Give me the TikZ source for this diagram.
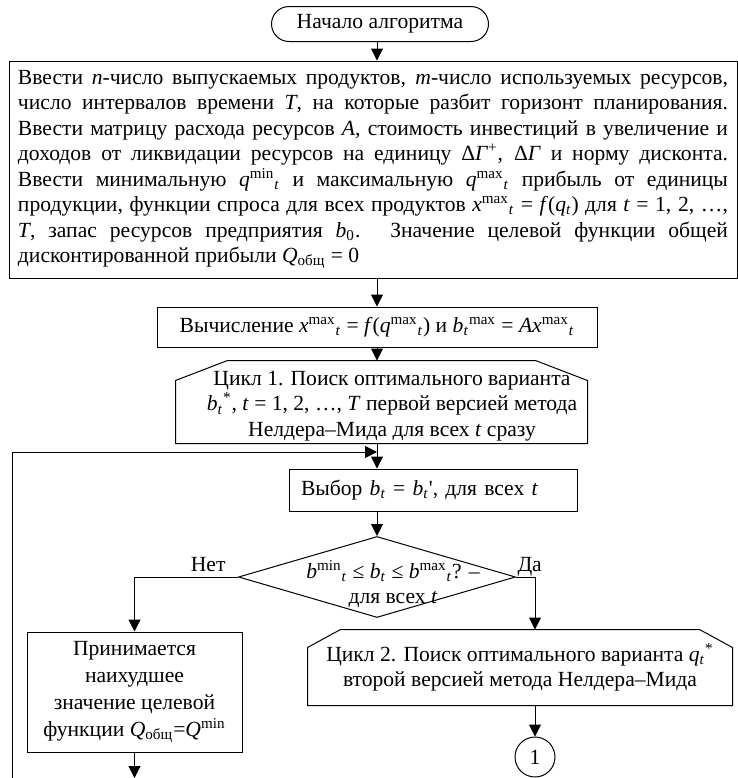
\documentclass[tikz,border=0pt]{standalone}
\usepackage{fontspec}
\setmainfont{Liberation Serif}
\usepackage{tikz}
\usetikzlibrary{arrows.meta,shapes.geometric,shapes.misc,positioning}
\newcommand{\hi}[1]{\textsuperscript{#1}}
\newcommand{\lo}[1]{\textsubscript{#1}}

\begin{document}
\begin{tikzpicture}[x=0.5pt,y=-0.5pt,line width=0.5pt,
    every node/.style={font=\fontsize{10.8pt}{12.75pt}\selectfont,inner sep=0pt},
    block/.style={draw,rectangle,align=center},
    term/.style={draw,rounded rectangle,minimum width=108.5pt,minimum height=17.5pt},
    arr/.style={-{Triangle[length=6pt,width=6pt]}}]
                \useasboundingbox (0,0) rectangle (738,778);

                \node[term] (start) at (380,24) {Начало алгоритма};
                \node[block,align=justify,text width=355pt,inner xsep=4.5pt,minimum height=108.5pt] (input) at (373,169.5) {%
                Ввести \textit{n}-число выпускаемых продуктов, \textit{m}-число используемых ресурсов,\linebreak
                число интервалов времени \textit{T}, на которые разбит горизонт планирования.\linebreak
                Ввести матрицу расхода ресурсов \textit{A}, стоимость инвестиций в увеличение и\linebreak
                доходов от ликвидации ресурсов на единицу Δ\textit{Γ}\hi{+}, Δ\textit{Γ} и норму дисконта.\linebreak
                Ввести минимальную \textit{q}\hi{min}\lo{\textit{t}} и максимальную \textit{q}\hi{max}\lo{\textit{t}} прибыль от единицы\linebreak
                продукции, функции спроса для всех продуктов \textit{x}\hi{max}\lo{\textit{t}} = \textit{f}(\textit{q}\lo{\textit{t}}) для \textit{t} = 1, 2, …,\linebreak
                \textit{T}, запас ресурсов предприятия \textit{b}\lo{0}. Значение целевой функции общей\linebreak
                дисконтированной прибыли \textit{Q}\lo{общ} = 0};
                \node[block,minimum width=220pt,minimum height=20pt] (calc) at (377,327)
                    {Вычисление \textit{x}\hi{max}\lo{\textit{t}} = \textit{f}(\textit{q}\hi{max}\lo{\textit{t}}) и \textit{b}\lo{\textit{t}}\hi{max} = \textit{Ax}\hi{max}\lo{\textit{t}}};

                % cycle 1
                \node[minimum width=205.5pt,minimum height=41pt] (cyc1) at (381.5,402) {};
                \draw (cyc1.south west) -- ([yshift=-10pt]cyc1.north west) -- ([xshift=26pt]cyc1.north west)
                    -- ([xshift=-26pt]cyc1.north east) -- ([yshift=-10pt]cyc1.north east) -- (cyc1.south east) -- cycle;
                \node[align=center] (cyc1txt) at (392,406)
                    {Цикл 1. Поиск оптимального варианта\\
                     \textit{b}\lo{\textit{t}}\hi{*}, \textit{t} = 1, 2, …, \textit{T} первой версией метода\\
                     Нелдера–Мида для всех \textit{t} сразу};

                \coordinate (loopin) at (377,452);
                \coordinate (loopend) at (12,778);
                \node[draw,align=left,text width=132pt,inner xsep=6pt,minimum height=21pt] (sel) at (433,490)
                    {Выбор \textit{b}\lo{\textit{t}} = \textit{b}\lo{\textit{t}}\textquotesingle, для всех \textit{t}};

                % check
                \node[draw,diamond,minimum width=138.5pt,minimum height=40.5pt] (chk) at (377,577) {};
                \node[align=center] (chktxt) at (393,584)
                    {\textit{b}\hi{min}\lo{\textit{t}} ≤ \textit{b}\lo{\textit{t}} ≤ \textit{b}\hi{max}\lo{\textit{t}}? –\\ для всех \textit{t}};
                \node[anchor=base east] (nolbl) at ([xshift=-6pt,yshift=3pt]chk.west) {Нет};
                \node[anchor=base west] (yeslbl) at ([xshift=0.5pt,yshift=3pt]chk.east) {Да};

                \node[block,font=\fontsize{10.8pt}{13.5pt}\selectfont,minimum width=107.5pt,minimum height=60pt] (worst) at (134.5,692)
                    {Принимается\\ наихудшее\\ значение целевой\\ функции \textit{Q}\lo{общ}=\textit{Q}\hi{min}};

                % cycle 2
                \node[align=center,minimum width=212pt,minimum height=37.5pt] (cyc2) at (520,667.5)
                    {Цикл 2. Поиск оптимального варианта \textit{q}\lo{\textit{t}}\hi{*}\\
                     второй версией метода Нелдера–Мида};
                \draw (cyc2.south west) -- ([yshift=-9pt]cyc2.north west) -- ([xshift=16.5pt]cyc2.north west)
                    -- ([xshift=-16.5pt]cyc2.north east) -- ([yshift=-9pt]cyc2.north east) -- (cyc2.south east) -- cycle;
                \node[draw,circle,minimum size=20pt] (conn) at (535,757) {1};

                \draw[arr] (start.south -| calc) -- (input.north -| calc);
                \draw[arr] (input.south -| calc) -- (calc);
                \draw[arr] (calc) -- (calc |- cyc1.north);
                \draw[arr] (cyc1.south -| chk) -- (chk |- sel.north);
                \draw[arr] (loopend) -- (loopend |- loopin) -- (loopin);
                \draw[arr] (sel.south -| chk) -- (chk.north);
                \draw[arr] (chk.west) -- (chk.west -| worst) -- (worst.north);
                \draw[arr] (chk.east) -- (chk.east -| conn) -- (conn |- cyc2.north);
                \draw[arr] (conn |- cyc2.south) -- (conn);
                \draw[arr] (worst) -- (worst |- loopend);
            \end{tikzpicture}
\end{document}
